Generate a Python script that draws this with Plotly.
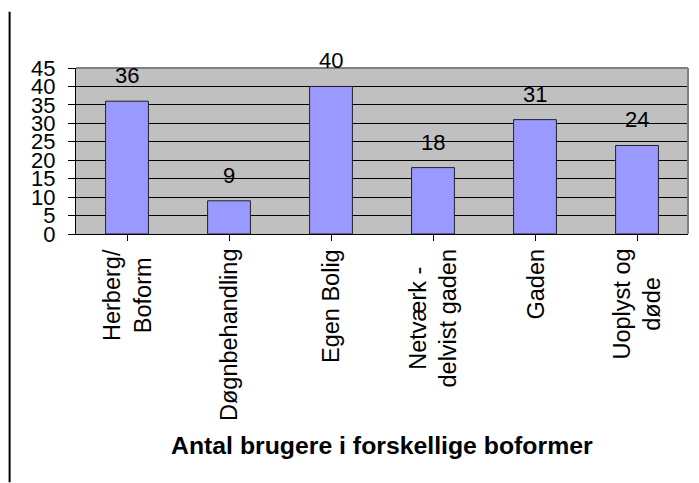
import plotly.graph_objects as go

categories = ["Herberg/<br>Boform", "Døgnbehandling", "Egen Bolig", "Netværk -<br>delvist gaden", "Gaden", "Uoplyst og<br>døde"]
values = [36, 9, 40, 18, 31, 24]
y_ticks = [0, 5, 10, 15, 20, 25, 30, 35, 40, 45]
title_text = "Antal brugere i forskellige boformer"

FONT = "Liberation Sans, Arial, sans-serif"
x_idx = list(range(len(categories)))

W, H = 691, 475
ML, MR, MT, MB = 67.5, 10.5, 59.5, 249
PW = W - ML - MR
PH = H - MT - MB

fig = go.Figure()
fig.add_trace(go.Bar(
    x=x_idx, y=values,
    marker=dict(color="#9999FF", line=dict(color="#222222", width=1)),
    width=0.42,
    hoverinfo="skip",
))

annotations = []
for i, v in zip(x_idx, values):
    annotations.append(dict(x=i, y=v, xref="x", yref="y", text=str(v), showarrow=False,
                            yanchor="bottom", yshift=11, font=dict(family=FONT, size=22, color="black")))
for i, c in zip(x_idx, categories):
    annotations.append(dict(x=i, y=0, xref="x", yref="y", text=c, showarrow=False,
                            textangle=-90, yanchor="top", xanchor="center", align="center",
                            yshift=-13, font=dict(family=FONT, size=23.5, color="black")))
annotations.append(dict(x=0.5, y=0, xref="paper", yref="paper", text="<b>" + title_text + "</b>",
                        showarrow=False, yanchor="middle", yshift=-211,
                        font=dict(family=FONT, size=24.8, color="black")))

fig.update_layout(
    width=W, height=H,
    margin=dict(l=ML, r=MR, t=MT, b=MB, pad=0),
    paper_bgcolor="white", plot_bgcolor="#C0C0C0",
    showlegend=False,
    annotations=annotations,
    shapes=[
        dict(type="line", xref="paper", yref="paper", x0=0, x1=1, y0=1, y1=1,
             line=dict(color="#808080", width=2)),
        dict(type="line", xref="paper", yref="paper", x0=1, x1=1, y0=0, y1=1,
             line=dict(color="#808080", width=2)),
        dict(type="line", xref="paper", yref="paper", x0=(1 - ML) / PW, x1=(1 - ML) / PW,
             y0=-MB / PH, y1=(PH + MT - 3) / PH,
             line=dict(color="black", width=2)),
    ],
    xaxis=dict(range=[-0.5, 5.5], tickvals=x_idx, showticklabels=False,
               tickson="boundaries", ticks="outside", ticklen=6, tickcolor="black",
               showline=True, linecolor="black", linewidth=1, showgrid=False,
               zeroline=False, fixedrange=True),
    yaxis=dict(range=[0, 45], tickvals=y_ticks, ticks="outside", ticklen=7, tickcolor="black",
               showline=True, linecolor="black", linewidth=1,
               showgrid=True, gridcolor="black", gridwidth=1, zeroline=False,
               tickfont=dict(family=FONT, size=22, color="black"), ticklabelstandoff=8,
               fixedrange=True),
    font=dict(family=FONT, color="black"),
)

fig.write_html("out.html")
